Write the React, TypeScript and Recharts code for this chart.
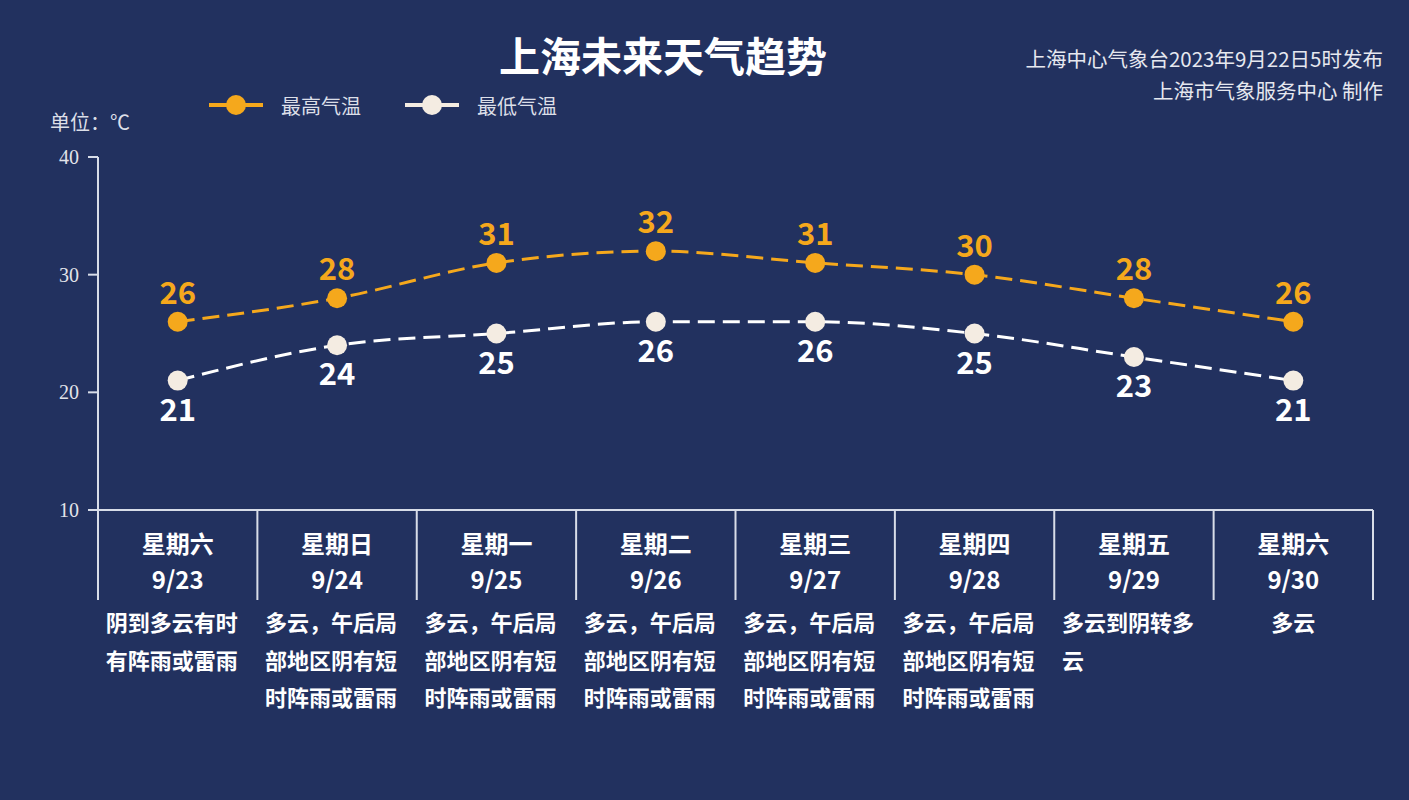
import { Line, LineChart, LabelList, XAxis, YAxis } from 'recharts';

const days = ['星期六', '星期日', '星期一', '星期二', '星期三', '星期四', '星期五', '星期六'];
const dates = ['9/23', '9/24', '9/25', '9/26', '9/27', '9/28', '9/29', '9/30'];
const weather = [
  '阴到多云有时有阵雨或雷雨',
  '多云，午后局部地区阴有短时阵雨或雷雨',
  '多云，午后局部地区阴有短时阵雨或雷雨',
  '多云，午后局部地区阴有短时阵雨或雷雨',
  '多云，午后局部地区阴有短时阵雨或雷雨',
  '多云，午后局部地区阴有短时阵雨或雷雨',
  '多云到阴转多云',
  '多云',
];
const highTemps = [26, 28, 31, 32, 31, 30, 28, 26];
const lowTemps = [21, 24, 25, 26, 26, 25, 23, 21];
const yTicks = [10, 20, 30, 40];

const data = dates.map((d, i) => ({ date: d, high: highTemps[i], low: lowTemps[i] }));

const BG = '#22315f';
const ORANGE = '#f5a81c';
const WHITE_DOT = '#f4ece2';
const LINE_C = '#d8dde8';
const FONT = '"Noto Sans CJK SC", "Noto Sans", sans-serif';

const W = 1409;
const H = 800;
const plotLeft = 98;
const plotRight = 1373;
const bw = (plotRight - plotLeft) / data.length;

const CategoryTick = (props: any) => {
  const { x, y, index } = props;
  const desc = weather[index];
  const lines: string[] = [];
  for (let i = 0; i < desc.length; i += 6) lines.push(desc.slice(i, i + 6));
  const multi = lines.length > 1;
  const startX = x - 72;
  return (
    <g>
      {index === 0 && (
        <line x1={x - bw / 2} y1={y} x2={x - bw / 2} y2={y + 90} stroke={LINE_C} strokeWidth={2} />
      )}
      <line x1={x + bw / 2} y1={y} x2={x + bw / 2} y2={y + 90} stroke={LINE_C} strokeWidth={2} />
      <text x={x} y={y + 43} textAnchor="middle" fill="#ffffff" fontSize={24} fontWeight="bold" fontFamily={FONT}>
        {days[index]}
      </text>
      <text x={x} y={y + 79} textAnchor="middle" fill="#ffffff" fontSize={24} fontWeight="bold" fontFamily={FONT}>
        {dates[index]}
      </text>
      {lines.map((ln, k) => (
        <text
          key={k}
          x={multi ? startX : x}
          y={y + 121 + k * 37.5}
          textAnchor={multi ? 'start' : 'middle'}
          fill="#ffffff"
          fontSize={22}
          fontWeight="bold"
          fontFamily={FONT}
        >
          {ln}
        </text>
      ))}
    </g>
  );
};

const highLabel = (props: any) => {
  const { x, y, value } = props;
  return (
    <text x={x} y={y - 18} textAnchor="middle" fill={ORANGE} fontSize={31} fontWeight="bold" fontFamily={FONT}>
      {value}
    </text>
  );
};

const lowLabel = (props: any) => {
  const { x, y, value } = props;
  return (
    <text x={x} y={y + 40} textAnchor="middle" fill="#ffffff" fontSize={31} fontWeight="bold" fontFamily={FONT}>
      {value}
    </text>
  );
};

const LegendItem = ({ color, label, left }: { color: string; label: string; left: number }) => (
  <div style={{ position: 'absolute', left, top: 90, height: 30, display: 'flex', alignItems: 'center' }}>
    <svg width={54} height={30}>
      <line x1={0} y1={15} x2={54} y2={15} stroke={color} strokeWidth={4} />
      <circle cx={27} cy={15} r={10} fill={color} />
    </svg>
    <span style={{ marginLeft: 18, color: '#dcdfe8', fontSize: 20, fontFamily: FONT }}>{label}</span>
  </div>
);

export default function App() {
  return (
    <div style={{ position: 'absolute', left: 0, top: 0, width: W, height: H, background: BG, overflow: 'hidden' }}>
      <div
        style={{
          position: 'absolute', left: 0, width: 1326, top: 26, textAlign: 'center',
          color: '#ffffff', fontSize: 41, fontWeight: 'bold', fontFamily: FONT, lineHeight: '56px',
        }}
      >
        上海未来天气趋势
      </div>
      <div
        style={{
          position: 'absolute', right: 26, top: 42, textAlign: 'right',
          color: '#e6e8ef', fontSize: 20.5, fontFamily: FONT, lineHeight: '32px',
        }}
      >
        <div>上海中心气象台2023年9月22日5时发布</div>
        <div>上海市气象服务中心 制作</div>
      </div>
      <LegendItem color={ORANGE} label="最高气温" left={209} />
      <LegendItem color={WHITE_DOT} label="最低气温" left={405} />
      <div
        style={{
          position: 'absolute', left: 50, top: 106, color: '#dcdfe8', fontSize: 20,
          fontFamily: FONT, lineHeight: '32px',
        }}
      >
        单位：℃
      </div>
      <div style={{ position: 'absolute', left: 0, top: 0 }}>
        <LineChart width={W} height={H} data={data} margin={{ top: 157, right: W - plotRight, left: 38, bottom: 90 }}>
          <XAxis
            dataKey="date"
            height={200}
            interval={0}
            tickLine={false}
            tickSize={0}
            tickMargin={0}
            padding={{ left: bw / 2, right: bw / 2 }}
            axisLine={{ stroke: LINE_C, strokeWidth: 2 }}
            tick={<CategoryTick />}
          />
          <YAxis
            width={60}
            domain={[10, 40]}
            ticks={yTicks}
            interval={0}
            tickSize={10}
            tickMargin={9}
            axisLine={{ stroke: LINE_C, strokeWidth: 2 }}
            tickLine={{ stroke: LINE_C, strokeWidth: 2 }}
            tick={{ fill: '#e2e4ea', fontSize: 20, fontFamily: '"Liberation Serif", serif' }}
          />
          <Line
            type="monotone"
            dataKey="high"
            stroke={ORANGE}
            strokeWidth={3}
            strokeDasharray="17 8"
            dot={{ r: 10, fill: ORANGE, stroke: 'none' }}
            activeDot={false}
            isAnimationActive={false}
          >
            <LabelList dataKey="high" content={highLabel} />
          </Line>
          <Line
            type="monotone"
            dataKey="low"
            stroke="#ffffff"
            strokeWidth={3}
            strokeDasharray="17 8"
            dot={{ r: 10, fill: WHITE_DOT, stroke: 'none' }}
            activeDot={false}
            isAnimationActive={false}
          >
            <LabelList dataKey="low" content={lowLabel} />
          </Line>
        </LineChart>
      </div>
    </div>
  );
}
